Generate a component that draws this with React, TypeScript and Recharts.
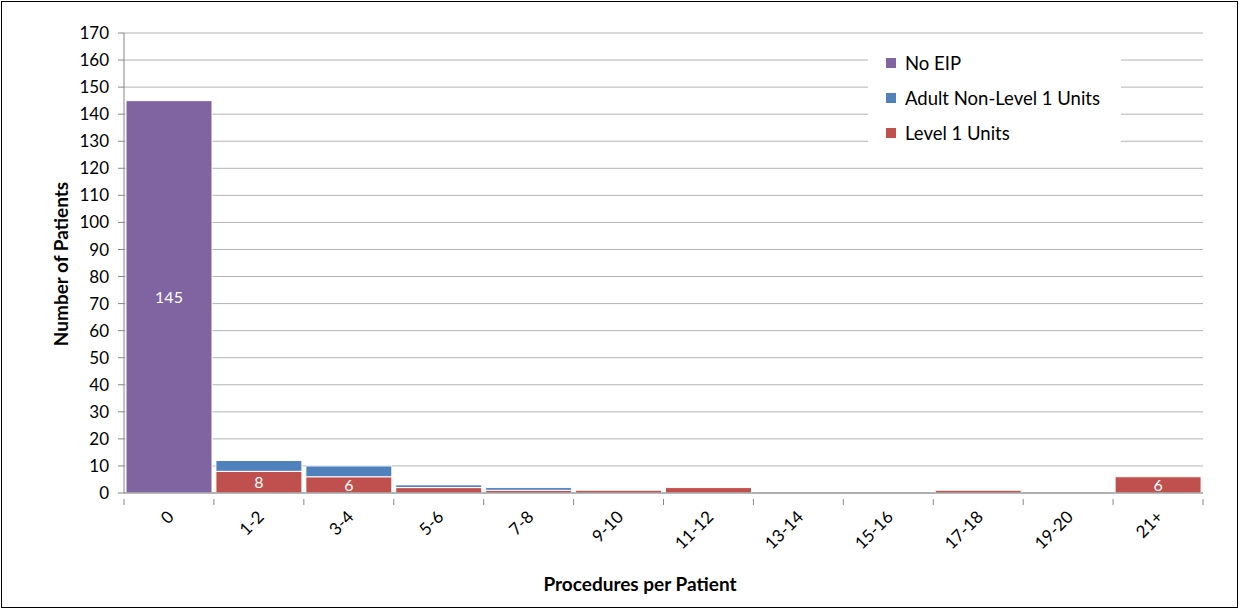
import { BarChart, Bar, XAxis, YAxis, CartesianGrid, LabelList } from "recharts"

const categories = ["0", "1-2", "3-4", "5-6", "7-8", "9-10", "11-12", "13-14", "15-16", "17-18", "19-20", "21+"]
const noEip = [145, 0, 0, 0, 0, 0, 0, 0, 0, 0, 0, 0]
const adultNonLevel1 = [0, 4, 4, 1, 1, 0, 0, 0, 0, 0, 0, 0]
const level1 = [0, 8, 6, 2, 1, 1, 2, 0, 0, 1, 0, 6]
const yTicks = [0, 10, 20, 30, 40, 50, 60, 70, 80, 90, 100, 110, 120, 130, 140, 150, 160, 170]

const data = categories.map((c, i) => ({
  cat: c,
  noEip: noEip[i] || null,
  adult: adultNonLevel1[i] || null,
  level1: level1[i] || null
}))

const FONT = "Lato, 'Open Sans', sans-serif"
const PLOT_LEFT = 124
const PLOT_RIGHT = 1203
const BAND = (PLOT_RIGHT - PLOT_LEFT) / categories.length

const XTick = (props: any) => {
  const { x, y, payload, index } = props
  const left = x - BAND / 2
  const right = x + BAND / 2
  const isLast = index === categories.length - 1
  return (
    <g>
      <line x1={left} y1={y - 2} x2={left} y2={y + 4} stroke="#868686" />
      {isLast && <line x1={right} y1={y - 2} x2={right} y2={y + 4} stroke="#868686" />}
      <text
        x={x + 6}
        y={y + 17}
        textAnchor="end"
        transform={`rotate(-45 ${x + 6} ${y + 17})`}
        style={{ fontSize: 17, fill: "#000", fontFamily: FONT }}
      >
        {payload.value}
      </text>
    </g>
  )
}

const legendItems = [
  { name: "No EIP", color: "#8064A2" },
  { name: "Adult Non-Level 1 Units", color: "#4F81BD" },
  { name: "Level 1 Units", color: "#C0504D" }
]

const ValueLabel = (props: any) => {
  const { x, y, width, height, value } = props
  if (value === undefined || value === null || value < 5) return null
  return (
    <text
      x={x + width / 2}
      y={y + height / 2 + 6}
      textAnchor="middle"
      style={{ fontSize: 16, fill: "#fff", fontFamily: FONT }}
    >
      {value}
    </text>
  )
}

export default function App() {
  return (
    <div
      style={{
        position: "absolute",
        left: 0,
        top: 0,
        width: 1239,
        height: 610,
        background: "#fff",
        overflow: "hidden"
      }}
    >
      <BarChart
        width={1239}
        height={610}
        data={data}
        barCategoryGap={2}
        margin={{ top: 33, right: 1239 - PLOT_RIGHT, bottom: 57, left: PLOT_LEFT - 60 }}
      >
        <CartesianGrid vertical={false} stroke="#B3B3B3" />
        <XAxis
          dataKey="cat"
          interval={0}
          height={60}
          tickLine={false}
          axisLine={{ stroke: "#868686" }}
          tick={<XTick />}
        />
        <YAxis
          width={60}
          domain={[0, 170]}
          ticks={yTicks}
          interval={0}
          tickMargin={9}
          axisLine={{ stroke: "#868686" }}
          tickLine={{ stroke: "#868686" }}
          tick={{ fontSize: 17, fill: "#000", fontFamily: FONT }}
        />
        <Bar dataKey="level1" name="Level 1 Units" stackId="s" fill="#C0504D" stroke="#fff" strokeWidth={1} isAnimationActive={false}>
          <LabelList dataKey="level1" content={<ValueLabel />} />
        </Bar>
        <Bar dataKey="adult" name="Adult Non-Level 1 Units" stackId="s" fill="#4F81BD" stroke="#fff" strokeWidth={1} isAnimationActive={false} />
        <Bar dataKey="noEip" name="No EIP" stackId="s" fill="#8064A2" stroke="#fff" strokeWidth={1} isAnimationActive={false}>
          <LabelList dataKey="noEip" content={<ValueLabel />} />
        </Bar>
      </BarChart>

      {/* legend sits inside the plot on a white box */}
      <div
        style={{
          position: "absolute",
          left: 868,
          top: 50,
          width: 253,
          height: 100,
          background: "#fff",
          fontFamily: FONT
        }}
      >
        {legendItems.map((it, i) => (
          <div
            key={it.name}
            style={{ position: "absolute", left: 18, top: 2 + i * 35, display: "flex", alignItems: "center", height: 22 }}
          >
            <span style={{ width: 10, height: 10, background: it.color, display: "inline-block", marginRight: 9 }} />
            <span style={{ fontSize: 18.5, color: "#000", whiteSpace: "nowrap" }}>{it.name}</span>
          </div>
        ))}
      </div>

      <div
        style={{
          position: "absolute",
          left: 60,
          top: 264,
          transform: "translate(-50%, -50%) rotate(-90deg)",
          fontFamily: FONT,
          fontWeight: 700,
          fontSize: 19,
          whiteSpace: "nowrap"
        }}
      >
        Number of Patients
      </div>
      <div
        style={{
          position: "absolute",
          left: 640,
          top: 583,
          transform: "translate(-50%, -50%)",
          fontFamily: FONT,
          fontWeight: 700,
          fontSize: 19,
          whiteSpace: "nowrap"
        }}
      >
        Procedures per Patient
      </div>

      <div
        style={{
          position: "absolute",
          left: 1,
          top: 1,
          width: 1237,
          height: 607,
          border: "1px solid #000",
          boxSizing: "border-box",
          pointerEvents: "none"
        }}
      />
    </div>
  )
}
